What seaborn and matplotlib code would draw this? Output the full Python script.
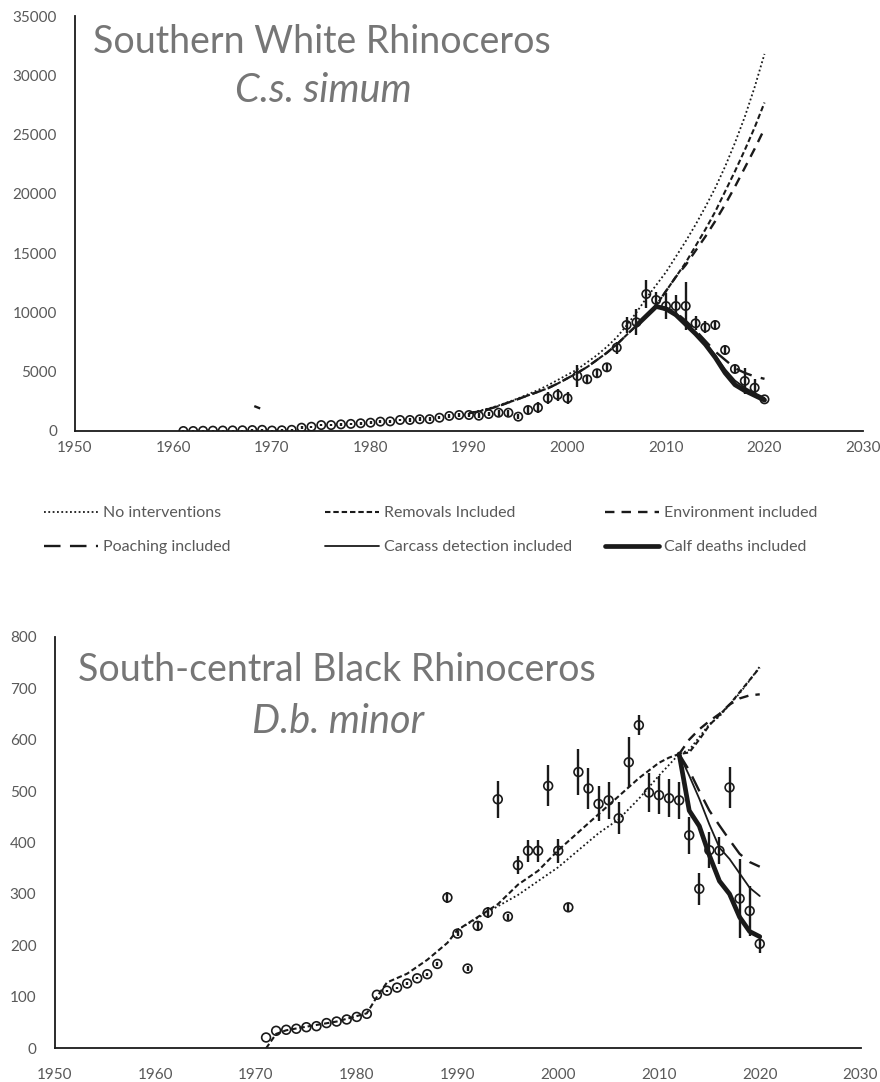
"""Rhino population trajectories under successive model scenarios."""

import matplotlib

matplotlib.use("Agg")
import matplotlib.pyplot as plt
import numpy as np
import pandas as pd
import seaborn as sns

# ---- Southern white rhino (C.s. simum) --------------------------------------
WHITE_OBS_YEARS = list(range(1961, 2021))
WHITE_OBS = [
    0, 0, 20, 30, 40, 50, 60, 80, 100, 40, 60, 100, 280, 360, 500, 500, 560,
    600, 650, 700, 790, 810, 930, 930, 990, 1000, 1120, 1270, 1350, 1350,
    1290, 1430, 1540, 1540, 1210, 1770, 1970, 2760, 3040, 2760, 4640, 4360,
    4870, 5370, 7030, 8940, 9170, 11550, 11050, 10540, 10540, 10540, 9080,
    8740, 8940, 6830, 5230, 4220, 3650, 2670,
]
WHITE_ERR = [
    60, 60, 60, 60, 60, 60, 60, 60, 60, 60, 80, 80, 100, 100, 100, 100, 100,
    100, 120, 120, 120, 120, 120, 150, 150, 150, 150, 150, 200, 200,
    200, 200, 250, 250, 200, 300, 450, 500, 500, 500, 900, 300,
    400, 300, 500, 700, 1100, 1200, 700, 1100, 900, 2000, 600,
    500, 400, 400, 300, 1100, 700, 150,
]

WHITE_BASE_YEARS = list(range(1990, 2021))
WHITE_NO_INT = [
    1500, 1700, 1900, 2150, 2450, 2750, 3100, 3450, 3850, 4300, 4750, 5200,
    5800, 6400, 7100, 7900, 8900, 10000, 11200, 12300, 13400, 14700, 16000,
    17400, 18900, 20500, 22300, 24300, 26500, 29000, 31800,
]
WHITE_REMOVALS = [
    1500, 1650, 1850, 2100, 2400, 2700, 3000, 3300, 3600, 4000, 4450, 4900,
    5400, 6000, 6600, 7300, 8100, 8900, 9700, 10600, 11800, 13000, 14200,
    15600, 17000, 18500, 20200, 21900, 23700, 25600, 27700,
]
WHITE_ENVIRONMENT = [
    1500, 1650, 1850, 2100, 2400, 2700, 3000, 3300, 3600, 4000, 4450, 4900,
    5400, 6000, 6600, 7300, 8100, 8900, 9700, 10600, 11800, 13000, 14000,
    15200, 16400, 17700, 19100, 20600, 22200, 23800, 25500,
]
WHITE_POACH_EARLY_YEARS = [1968.2, 1968.8]
WHITE_POACH_EARLY = [2100, 1900]
WHITE_POACH_YEARS = list(range(2009, 2021))
WHITE_POACHING = [10500, 10400, 10000, 9300, 8500, 7600, 6700, 6000, 5300, 4900, 4600, 4400]
WHITE_DECLINE_YEARS = list(range(2007, 2021))
WHITE_CARCASS = [8900, 9700, 10500, 10350, 9900, 9150, 8350, 7450, 6400, 5200, 4250, 3650, 3200, 2800]
WHITE_CALF = [8900, 9700, 10500, 10300, 9800, 9000, 8200, 7300, 6200, 4900, 3900, 3400, 3000, 2600]

# ---- South-central black rhino (D.b. minor) ---------------------------------
BLACK_OBS_YEARS = list(range(1971, 2021))
BLACK_OBS = [
    21, 34, 36, 38, 41, 43, 49, 52, 56, 61, 67, 104, 112, 118, 126, 136, 144,
    164, 293, 223, 155, 238, 264, 484, 256, 356, 384, 384, 510, 384, 274, 537,
    505, 475, 482, 447, 556, 628, 497, 492, 486, 482, 414, 310, 385, 384, 507,
    291, 267, 203,
]
BLACK_ERR = [
    0, 0, 0, 0, 0, 0, 0, 0, 0, 0, 0, 0, 2, 2, 2, 2, 3,
    4, 10, 5, 5, 8, 10, 36, 6, 18, 21, 21, 40, 23, 8, 45,
    40, 34, 36, 31, 49, 19, 38, 37, 37, 36, 36, 31, 35, 26, 40,
    76, 48, 17,
]
BLACK_REM_YEARS = [
    1971, 1972, 1973, 1975, 1978, 1981, 1982, 1983, 1985, 1987, 1989, 1990,
    1992, 1994, 1996, 1998, 2000, 2002, 2004, 2006, 2008, 2010, 2011, 2012,
    2013, 2014, 2015, 2016, 2017, 2018, 2019, 2020,
]
BLACK_REMOVALS = [
    0, 28, 35, 42, 52, 68, 100, 128, 145, 172, 205, 230,
    255, 280, 318, 345, 385, 420, 455, 490, 525, 555, 565, 572,
    575, 600, 628, 648, 668, 692, 716, 740,
]
BLACK_NOINT_YEARS = [1990, 1993, 1996, 2000, 2004, 2006, 2008, 2010, 2012, 2013,
                     2014, 2015, 2016, 2017, 2018, 2019, 2020]
BLACK_NO_INT = [230, 265, 298, 352, 418, 445, 485, 530, 572, 580,
                605, 630, 645, 668, 690, 715, 742]
BLACK_LATE_YEARS = list(range(2012, 2021))
BLACK_ENVIRONMENT = [572, 600, 620, 636, 650, 668, 680, 686, 688]
BLACK_POACHING = [572, 540, 500, 462, 433, 405, 378, 362, 353]
BLACK_CARCASS = [572, 530, 485, 435, 390, 368, 340, 312, 296]
BLACK_CALF = [572, 462, 432, 375, 325, 300, 255, 227, 217]

SCENARIOS = [
    ("No interventions", dict(ls=(0, (1, 1.4)), lw=1.3)),
    ("Removals Included", dict(ls=(0, (2.6, 1.4)), lw=1.5)),
    ("Environment included", dict(ls=(0, (4, 3)), lw=1.7)),
    ("Poaching included", dict(ls=(0, (7, 4)), lw=1.7)),
    ("Carcass detection included", dict(ls="-", lw=1.3)),
    ("Calf deaths included", dict(ls="-", lw=3.4)),
]
STYLE = dict(SCENARIOS)

INK = "#1a1a1a"
GREY_TEXT = "#595959"
TITLE_GREY = "#767676"

sns.set_theme(style="white", context="notebook")
plt.rcParams["font.family"] = ["Lato", "DejaVu Sans"]


def draw_line(ax, years, values, label):
    df = pd.DataFrame({"year": years, "n": values})
    st = STYLE[label]
    sns.lineplot(data=df, x="year", y="n", ax=ax, color=INK, linestyle=st["ls"],
                 linewidth=st["lw"], estimator=None, sort=False, legend=False)


def draw_obs(ax, years, values, err, size):
    df = pd.DataFrame({"year": years, "n": values, "err": err})
    ax.vlines(df["year"], df["n"] - df["err"], df["n"] + df["err"],
              color=INK, lw=1.7, zorder=3)
    sns.scatterplot(data=df, x="year", y="n", ax=ax, marker="o", s=size,
                    facecolor="none", edgecolor=INK, linewidth=1.2, zorder=4,
                    legend=False)


def style_axis(ax, ymax, ystep, xpad):
    ax.set_xlim(1950, 2030)
    ax.set_ylim(0, ymax)
    ax.set_xticks(np.arange(1950, 2031, 10))
    ax.set_yticks(np.arange(0, ymax + 1, ystep))
    ax.set_xlabel("")
    ax.set_ylabel("")
    for side in ("top", "right"):
        ax.spines[side].set_visible(False)
    for side in ("left", "bottom"):
        ax.spines[side].set_color(INK)
        ax.spines[side].set_linewidth(1.3)
    ax.tick_params(axis="both", length=0, labelsize=11, colors=GREY_TEXT)
    ax.tick_params(axis="y", pad=13)
    ax.tick_params(axis="x", pad=xpad)
    ax.grid(False)


fig = plt.figure(figsize=(8.8, 10.82), dpi=100)

# top panel: white rhino
ax1 = fig.add_axes([75 / 880, 1 - 431 / 1082, 788 / 880, 415 / 1082])
draw_obs(ax1, WHITE_OBS_YEARS, WHITE_OBS, WHITE_ERR, 36)
draw_line(ax1, WHITE_BASE_YEARS, WHITE_NO_INT, "No interventions")
draw_line(ax1, WHITE_BASE_YEARS, WHITE_REMOVALS, "Removals Included")
draw_line(ax1, WHITE_BASE_YEARS, WHITE_ENVIRONMENT, "Environment included")
draw_line(ax1, WHITE_POACH_EARLY_YEARS, WHITE_POACH_EARLY, "Poaching included")
draw_line(ax1, WHITE_POACH_YEARS, WHITE_POACHING, "Poaching included")
draw_line(ax1, WHITE_DECLINE_YEARS, WHITE_CARCASS, "Carcass detection included")
draw_line(ax1, WHITE_DECLINE_YEARS, WHITE_CALF, "Calf deaths included")
style_axis(ax1, 35000, 5000, 7)
ax1.text(0.023, 0.937, "Southern White Rhinoceros", transform=ax1.transAxes,
         fontsize=27, color=TITLE_GREY, va="center", ha="left")
ax1.text(0.315, 0.82, "C.s. simum", transform=ax1.transAxes, fontsize=28.5,
         style="italic", color=TITLE_GREY, va="center", ha="center")

# bottom panel: black rhino
ax2 = fig.add_axes([54.5 / 880, 1 - 1048.3 / 1082, 806 / 880, 411.6 / 1082])
draw_obs(ax2, BLACK_OBS_YEARS, BLACK_OBS, BLACK_ERR, 40)
draw_line(ax2, BLACK_NOINT_YEARS, BLACK_NO_INT, "No interventions")
draw_line(ax2, BLACK_REM_YEARS, BLACK_REMOVALS, "Removals Included")
draw_line(ax2, BLACK_LATE_YEARS, BLACK_ENVIRONMENT, "Environment included")
draw_line(ax2, BLACK_LATE_YEARS, BLACK_POACHING, "Poaching included")
draw_line(ax2, BLACK_LATE_YEARS, BLACK_CARCASS, "Carcass detection included")
draw_line(ax2, BLACK_LATE_YEARS, BLACK_CALF, "Calf deaths included")
style_axis(ax2, 800, 100, 14)
ax2.text(0.029, 0.918, "South-central Black Rhinoceros", transform=ax2.transAxes,
         fontsize=27, color=TITLE_GREY, va="center", ha="left")
ax2.text(0.352, 0.795, "D.b. minor", transform=ax2.transAxes, fontsize=28.5,
         style="italic", color=TITLE_GREY, va="center", ha="center")

# legend: three columns, each placed separately
columns = [
    (44, ["No interventions", "Poaching included"]),
    (325, ["Removals Included", "Carcass detection included"]),
    (605, ["Environment included", "Calf deaths included"]),
]
for x0, names in columns:
    handles = [
        plt.Line2D([], [], color=INK, linestyle=STYLE[n]["ls"], linewidth=STYLE[n]["lw"])
        for n in names
    ]
    leg = fig.legend(handles, names, loc="upper left",
                     bbox_to_anchor=(x0 / 880, 1 - 506 / 1082), frameon=False,
                     fontsize=11.5, handlelength=3.4, handletextpad=0.3,
                     labelspacing=1.25, borderaxespad=0, borderpad=0)
    for t in leg.get_texts():
        t.set_color(GREY_TEXT)

fig.savefig("out.png", dpi=100)
plt.close(fig)
